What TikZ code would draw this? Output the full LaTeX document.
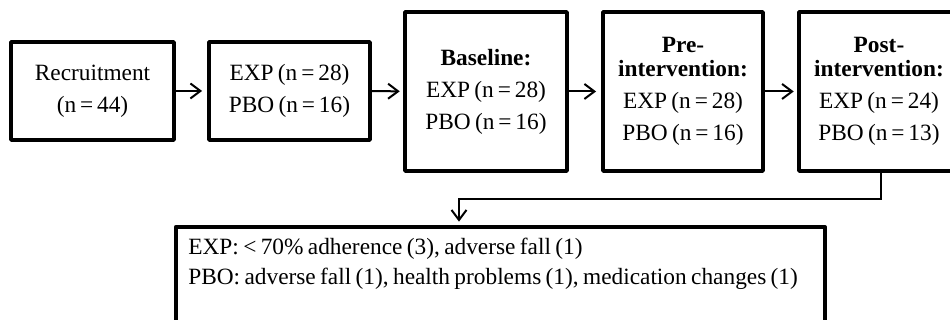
\documentclass[tikz,border=0pt]{standalone}
\usepackage{fontspec}
\setmainfont{Liberation Serif}[WordSpace=0.75]
\usetikzlibrary{arrows.meta}
\tikzset{
	stagebox/.style={draw, line width=2.3pt, line join=round, align=center, inner sep=0pt,
		font=\fontsize{14}{19.2}\selectfont},
	flowarrow/.style={line width=1.2pt, -{Straight Barb[length=6pt, width=9pt, line width=1.2pt]}},
}
\begin{document}
\begin{tikzpicture}[x=0.6pt, y=-0.6pt]
			\useasboundingbox (0,0) rectangle (950,320);
			\clip (0,0) rectangle (950,320);
			% stages of the trial
			\node[stagebox, minimum width=97.8pt, minimum height=58.8pt] (recruit) at (92.5, 91) {Recruitment\\(n\,=\,44)};
			\node[stagebox, minimum width=96.6pt, minimum height=58.8pt] (alloc) at (289.5, 91) {EXP (n\,=\,28)\\ PBO (n\,=\,16)};
			\node[stagebox, minimum width=97.2pt, minimum height=95.4pt] (baseline) at (486, 91.5) {\textbf{Baseline:}\\EXP (n\,=\,28)\\PBO (n\,=\,16)};
			\node[stagebox, minimum width=96pt, minimum height=95.4pt] (pre) at (683, 91.5) {\textbf{Pre-}\\[-4.4pt]\textbf{intervention:}\\EXP (n\,=\,28)\\PBO (n\,=\,16)};
			\node[stagebox, minimum width=96pt, minimum height=95.4pt] (post) at (879, 91.5) {\textbf{Post-}\\[-4.4pt]\textbf{intervention:}\\EXP (n\,=\,24)\\ PBO (n\,=\,13)};
			% dropouts
			\node[stagebox, anchor=north west, minimum width=389.4pt, minimum height=90pt] (drop) at (174, 225) {};
			\node[anchor=north west, align=left, inner sep=0pt, font=\fontsize{14}{18}\selectfont] (dropText) at (188, 238) {EXP: < 70\% adherence (3), adverse fall (1)\\PBO: adverse fall (1), health problems (1), medication changes (1)};
			\draw[flowarrow, shorten >=3pt] (recruit) -- (alloc);
			\draw[flowarrow, shorten >=2pt] (alloc) -- (baseline);
			\draw[flowarrow, shorten >=3pt] (baseline) -- (pre);
			\draw[flowarrow, shorten >=2pt] (pre) -- (post);
			\coordinate (turn) at (459, 199);
			\draw[flowarrow, shorten >=2pt] ([xshift=1.2pt]post.south) |- (turn) -- (turn |- drop.north);
\end{tikzpicture}
\end{document}
